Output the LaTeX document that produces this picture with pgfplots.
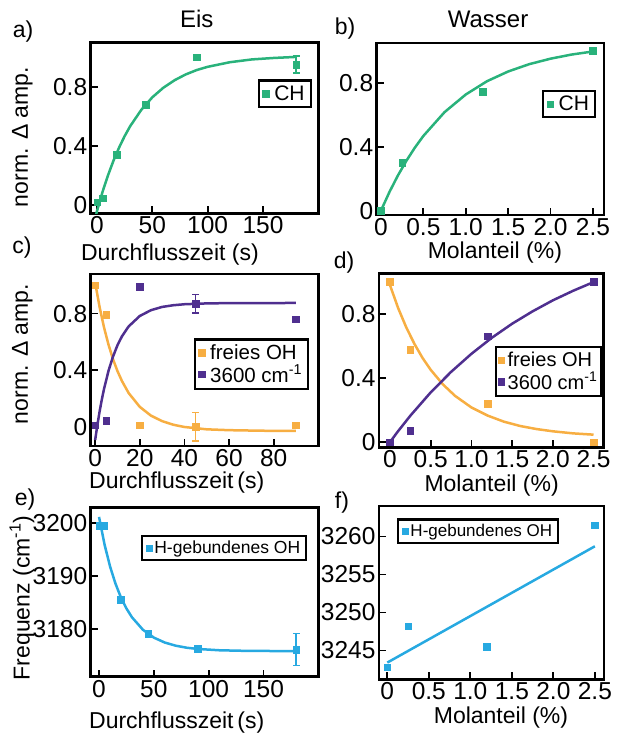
\documentclass[border=0pt]{standalone}
\usepackage{fontspec}
\setmainfont{Liberation Sans}
\usepackage{pgfplots}
\pgfplotsset{compat=1.18}
\definecolor{cgreen}{HTML}{29B27B}
\definecolor{corange}{HTML}{F7AE42}
\definecolor{cpurple}{HTML}{4F2F8F}
\definecolor{ccyan}{HTML}{27A9E1}
\newcommand{\fbig}{\fontsize{23}{26}\selectfont}
\newcommand{\ftick}{\fontsize{24.5}{27}\selectfont}
\pgfplotsset{
  panel/.style={
    scale only axis,
    anchor=south west,
    axis line style={line width=2.8pt},
    tick style={line width=1.8pt, black},
    major tick length=7pt,
    tick align=inside,
    tick pos=left,
    ticklabel style={font=\ftick},
    label style={font=\fbig},
    title style={font=\fontsize{24}{27}\selectfont},
    legend cell align=left,
    legend style={draw=black, line width=2.2pt, inner xsep=4pt, inner ysep=3pt,
      /tikz/every odd column/.append style={column sep=3pt}},
    /pgf/number format/assume math mode=true,
  },
  dat/.style={only marks, mark=square*, mark size=3.3pt, color=#1, mark options={solid, line width=0.4pt},
    error bars/.cd, y dir=both, y explicit,
    error bar style={line width=1.8pt, color=#1},
    error mark options={rotate=90, mark size=3.5pt, line width=1.8pt, color=#1}},
  fit/.style={color=#1, line width=2.5pt, mark=none, forget plot},
}
\begin{document}
\begin{tikzpicture}
\useasboundingbox (0,0) rectangle (616pt,-736pt);
% ---------- a) ----------
\begin{axis}[panel, at={(90.7pt,-213.3pt)}, width=227.6pt, height=170.6pt,
  xmin=-5.7, xmax=200, ymin=-0.056, ymax=1.097,
  xtick={0,50,100,150}, xticklabels={0,50,100,150},
  ytick={0,0.4,0.8}, yticklabels={0,0.4,0.8},
  xlabel={Durchflusszeit (s)},
  xlabel style={at={(axis description cs:0.348,-0.239)}, anchor=center},
  ylabel={norm. Δ amp.},
  ylabel style={at={(axis description cs:-0.30,0.447)}, anchor=center},
  title={Eis}, title style={at={(axis description cs:0.466,1.104)}, anchor=center},
  legend style={at={(0.971,0.785)}, anchor=north east, font=\fontsize{21}{24}\selectfont},
]
\addplot[fit=cgreen] coordinates {(-1,-0.069) (0,-0.041) (5,0.089) (10,0.202) (15,0.302) (20,0.389) (25,0.466) (30,0.533) (40,0.643) (50,0.728) (60,0.793) (70,0.843) (80,0.882) (90,0.912) (100,0.934) (120,0.965) (140,0.984) (160,0.994) (180,1.001)};
\addplot[dat=cgreen] coordinates {(0,0.02) (5,0.045) (18,0.34) (44,0.68) (90,1.0) (180,0.95) +- (0,0.057)};
\addlegendentry{CH}
\end{axis}
% ---------- b) ----------
\begin{axis}[panel, at={(376.7pt,-215pt)}, width=227.3pt, height=172pt,
  xmin=-0.05, xmax=2.63, ymin=-0.027, ymax=1.048,
  xtick={0,0.5,1,1.5,2,2.5}, xticklabels={0,0.5,1.0,1.5,2.0,2.5},
  ytick={0,0.4,0.8}, yticklabels={0,0.4,0.8},
  xlabel={Molanteil (\%)},
  xlabel style={at={(axis description cs:0.52,-0.221)}, anchor=center},
  title={Wasser}, title style={at={(axis description cs:0.49,1.105)}, anchor=center},
  legend style={at={(0.965,0.727)}, anchor=north east, font=\fontsize{21}{24}\selectfont},
]
\addplot[fit=cgreen] coordinates {(0,0) (0.1,0.1165) (0.2,0.220) (0.3,0.312) (0.4,0.394) (0.5,0.467) (0.75,0.616) (1.0,0.726) (1.25,0.809) (1.5,0.870) (1.75,0.916) (2.0,0.950) (2.25,0.976) (2.5,0.995)};
\addplot[dat=cgreen] coordinates {(0,0.0) (0.25,0.30) (1.2,0.745) (2.5,1.0)};
\addlegendentry{CH}
\end{axis}
% ---------- c) ----------
\begin{axis}[panel, at={(90.7pt,-446pt)}, width=227.6pt, height=172pt,
  xmin=-2, xmax=100, ymin=-0.137, ymax=1.08,
  xtick={0,20,40,60,80}, xticklabels={0,20,40,60,80},
  ytick={0,0.4,0.8}, yticklabels={0,0.4,0.8},
  xlabel={Durchflusszeit\,(s)},
  xlabel style={at={(axis description cs:0.378,-0.215)}, anchor=center},
  ylabel={norm. Δ amp.},
  ylabel style={at={(axis description cs:-0.30,0.535)}, anchor=center},
  legend style={at={(0.960,0.626)}, anchor=north east, font=\fontsize{20.5}{23}\selectfont},
]
\addplot[fit=corange] coordinates {(0,1.02) (2,0.845) (4,0.700) (6,0.579) (8,0.477) (10,0.393) (12,0.323) (15,0.238) (20,0.140) (25,0.078) (30,0.039) (35,0.0136) (40,-0.0024) (50,-0.019) (60,-0.025) (75,-0.029) (90,-0.03)};
\addplot[fit=cpurple] coordinates {(0,-0.095) (1,0.013) (2,0.108) (3,0.193) (4,0.269) (6,0.396) (8,0.496) (10,0.576) (12,0.639) (15,0.709) (20,0.783) (25,0.824) (30,0.847) (35,0.859) (40,0.866) (50,0.872) (60,0.874) (90,0.875)};
\addplot[dat=corange] coordinates {(0,1.0) (5,0.79) (20,0.01) (45,0.0) +- (0,0.1) (90,0.01)};
\addlegendentry{freies OH}
\addplot[dat=cpurple] coordinates {(0,0.01) (5,0.04) (20,0.99) (45,0.87) +- (0,0.065) (90,0.76)};
\addlegendentry{3600 cm\textsuperscript{-1}}
\end{axis}
% ---------- d) ----------
\begin{axis}[panel, at={(379pt,-447.3pt)}, width=224.3pt, height=174pt,
  xmin=-0.135, xmax=2.62, ymin=-0.033, ymax=1.054,
  xtick={0,0.5,1,1.5,2,2.5}, xticklabels={0,0.5,1.0,1.5,2.0,2.5},
  ytick={0,0.4,0.8}, yticklabels={0,0.4,0.8},
  xlabel={Molanteil (\%)},
  xlabel style={at={(axis description cs:0.502,-0.217)}, anchor=center},
  legend style={at={(0.996,0.582)}, anchor=north east, font=\fontsize{20}{23}\selectfont,
    inner xsep=2pt, /tikz/every odd column/.append style={column sep=1pt}},
]
\addplot[fit=corange] coordinates {(0,0.98) (0.1,0.837) (0.2,0.716) (0.3,0.613) (0.4,0.525) (0.5,0.451) (0.65,0.360) (0.8,0.288) (1.0,0.216) (1.2,0.165) (1.4,0.127) (1.6,0.100) (1.8,0.081) (2.0,0.067) (2.25,0.054) (2.5,0.046)};
\addplot[fit=cpurple] coordinates {(0,0) (0.1,0.068) (0.25,0.1645) (0.5,0.310) (0.75,0.438) (1.0,0.551) (1.25,0.651) (1.5,0.739) (1.75,0.816) (2.0,0.885) (2.25,0.945) (2.5,0.999)};
\addplot[dat=corange] coordinates {(0,1.0) (0.25,0.575) (1.2,0.24) (2.5,0.0)};
\addlegendentry{freies OH}
\addplot[dat=cpurple] coordinates {(0,0.0) (0.25,0.07) (1.2,0.66) (2.5,1.0)};
\addlegendentry{3600 cm\textsuperscript{-1}}
\end{axis}
% ---------- e) ----------
\begin{axis}[panel, at={(90.7pt,-676.7pt)}, width=227.6pt, height=169.4pt,
  xmin=-7.6, xmax=200, ymin=3171.1, ymax=3202.9,
  xtick={0,50,100,150}, xticklabels={0,50,100,150},
  ytick={3180,3190,3200}, yticklabels={3180,3190,3200},
  xlabel={Durchflusszeit\,(s)},
  xlabel style={at={(axis description cs:0.378,-0.273)}, anchor=center},
  ylabel={Frequenz (cm\textsuperscript{-1})},
  ylabel style={at={(axis description cs:-0.302,0.465)}, anchor=center},
  legend style={at={(0.952,0.836)}, anchor=north east, font=\fontsize{17.5}{20}\selectfont,
    /tikz/every odd column/.append style={column sep=0pt}},
]
\addplot[fit=ccyan] coordinates {(0,3201.1) (5,3195.93) (10,3191.83) (15,3188.57) (20,3185.97) (25,3183.91) (30,3182.27) (40,3179.92) (50,3178.44) (60,3177.51) (70,3176.92) (80,3176.54) (90,3176.31) (110,3176.06) (130,3175.97) (150,3175.93) (180,3175.91)};
\addplot[dat=ccyan] coordinates {(0,3199.5) (4,3199.5) (20,3185.5) (45,3179.2) (90,3176.4) (180,3176.2) +- (0,3.0)};
\addlegendentry{H-gebundenes OH}
\end{axis}
% ---------- f) ----------
\begin{axis}[panel, at={(379pt,-679.3pt)}, width=225pt, height=173.3pt,
  xmin=-0.1, xmax=2.61, ymin=3241.2, ymax=3264.0,
  xtick={0,0.5,1,1.5,2,2.5}, xticklabels={0,0.5,1.0,1.5,2.0,2.5},
  ytick={3245,3250,3255,3260}, yticklabels={3245,3250,3255,3260},
  xlabel={Molanteil (\%)},
  xlabel style={at={(axis description cs:0.542,-0.223)}, anchor=center},
  legend style={at={(0.079,0.929)}, anchor=north west, font=\fontsize{17}{20}\selectfont,
    /tikz/every odd column/.append style={column sep=0pt}},
]
\addplot[fit=ccyan] coordinates {(0,3243.4) (1.25,3251.05) (2.5,3258.7)};
\addplot[dat=ccyan] coordinates {(0,3242.8) (0.25,3248.2) (1.2,3245.5) (2.5,3261.5)};
\addlegendentry{H-gebundenes OH}
\end{axis}
% ---------- panel letters ----------
\node[font=\fbig] at (23pt,-32pt) {a)};
\node[font=\fbig] at (345pt,-29pt) {b)};
\node[font=\fbig] at (22pt,-248pt) {c)};
\node[font=\fbig] at (344pt,-263pt) {d)};
\node[font=\fbig] at (25pt,-500pt) {e)};
\node[font=\fbig] at (342pt,-503pt) {f)};
\end{tikzpicture}
\end{document}
